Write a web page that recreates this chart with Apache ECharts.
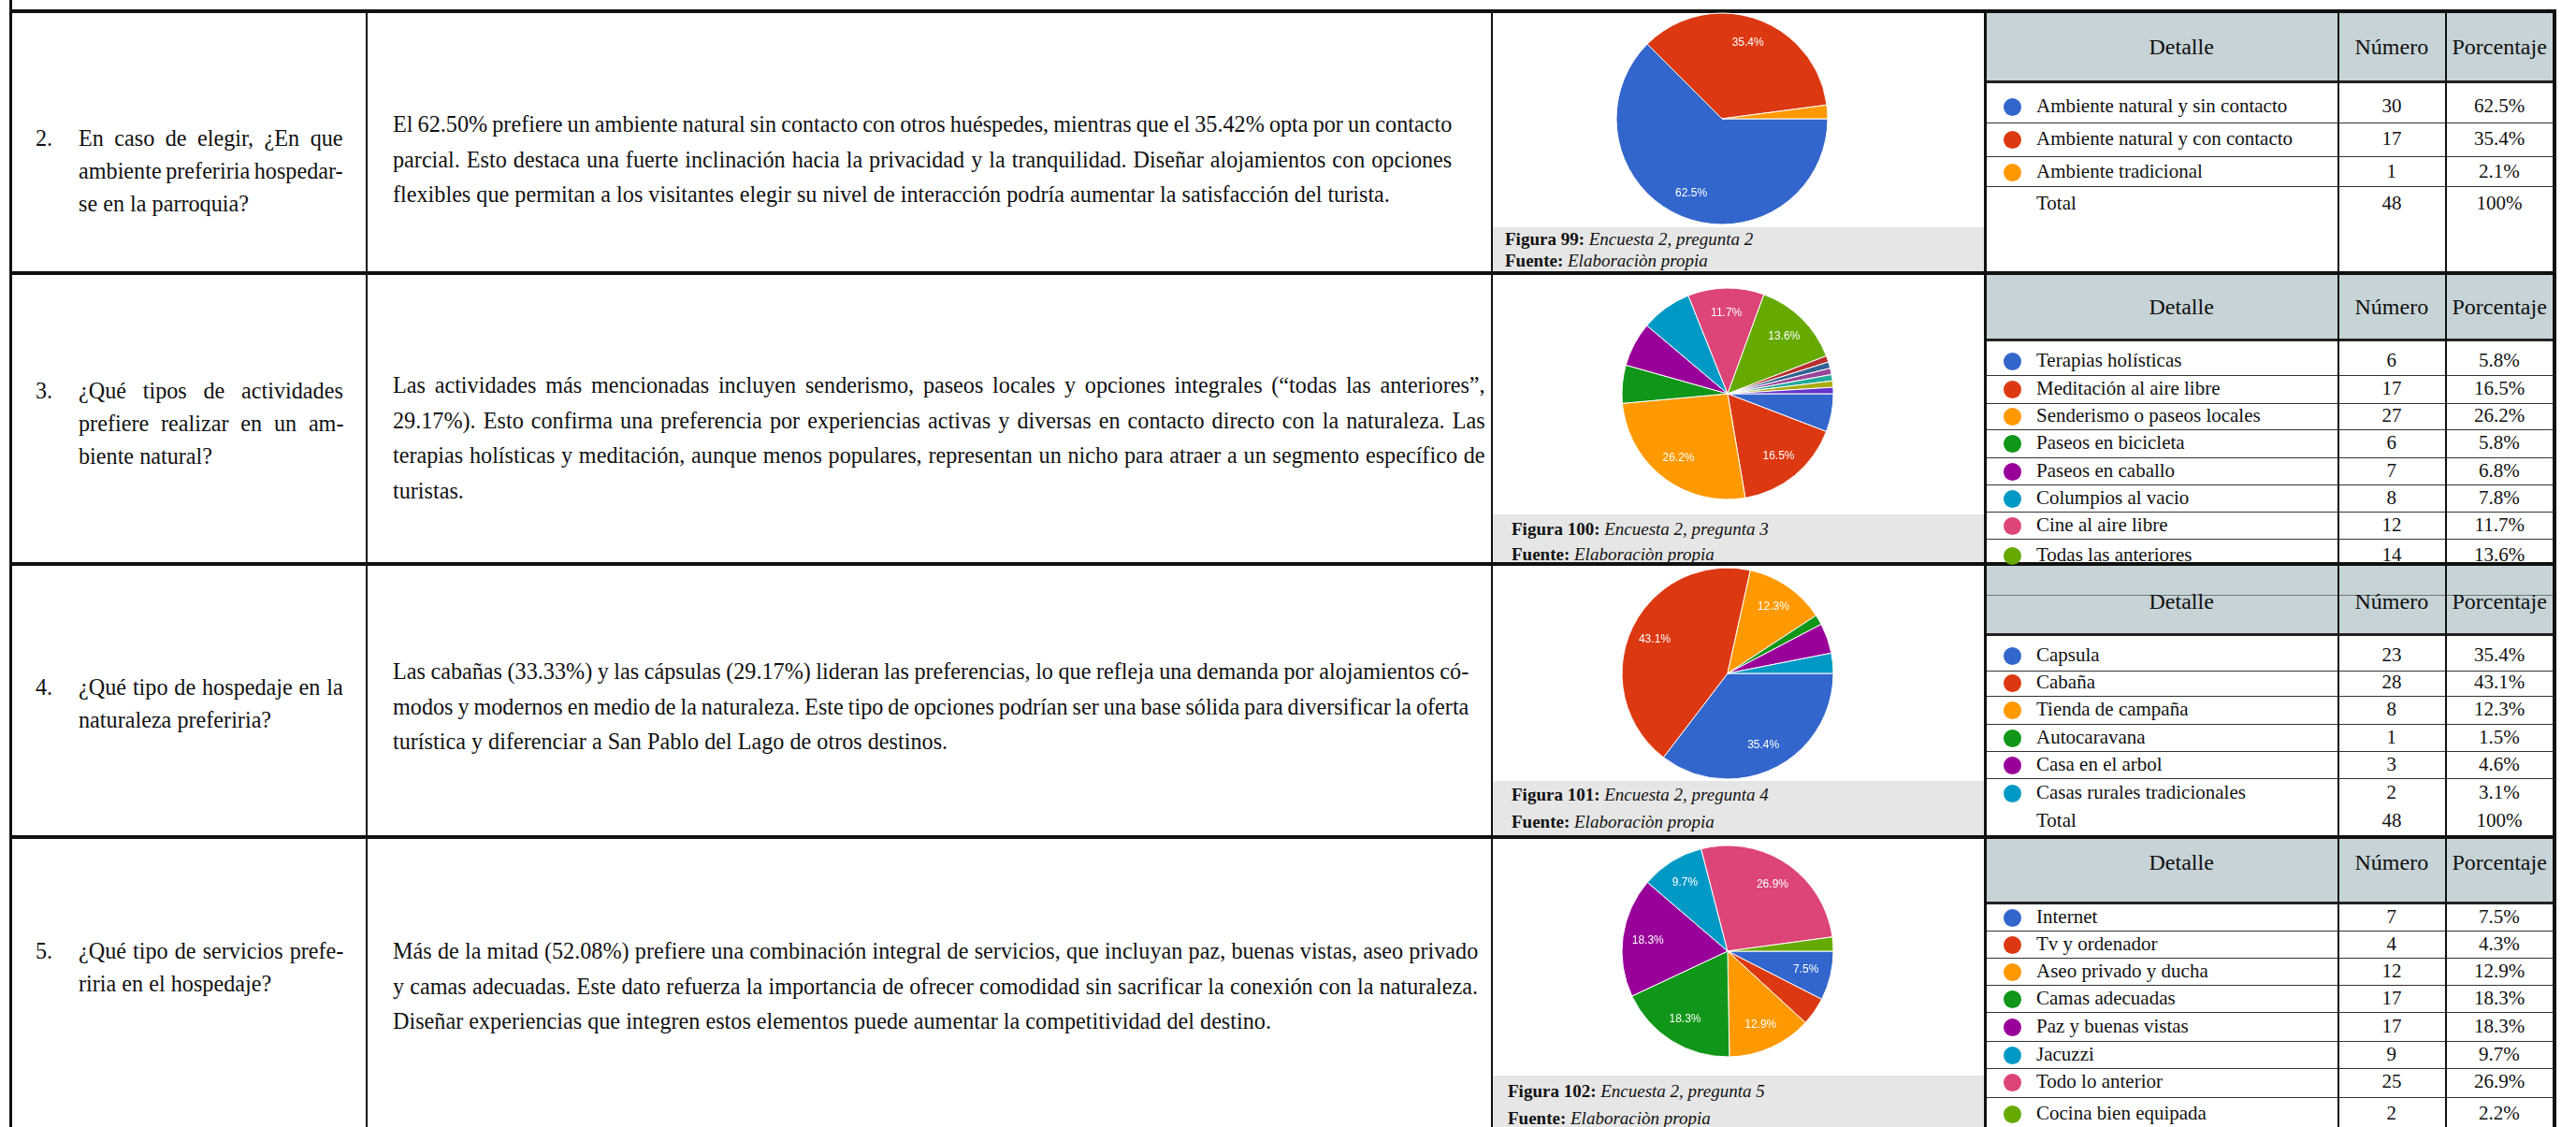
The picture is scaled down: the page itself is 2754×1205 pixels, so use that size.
<!DOCTYPE html>
<html>
<head>
<meta charset="utf-8">
<title>Encuesta 2</title>
<script src="https://cdn.jsdelivr.net/npm/echarts/dist/echarts.min.js"></script>
<style>
  html, body { margin: 0; padding: 0; background: #fff; }
  #page { position: relative; width: 2754px; height: 1205px; overflow: hidden;
          font-family: "Liberation Serif", "Times New Roman", serif; color: #111; }
  .ln { position: absolute; background: #111; }
  .tx { position: absolute; white-space: nowrap; }
  #chart { position: absolute; left: 0; top: 0; width: 2754px; height: 1205px; z-index: 5; }
</style>
</head>
<body>
<div id="page">
  <div id="chart"></div>
</div>
<script>
// ---- datos (encuesta 2) ----
const p2Detalle = ['Ambiente natural y sin contacto', 'Ambiente natural y con contacto', 'Ambiente tradicional'];
const p2Numero = [30, 17, 1];
const p2Porcentaje = ['62.5%', '35.4%', '2.1%'];
const p2Total = ['48', '100%'];

const p3Detalle = ['Terapias holísticas', 'Meditación al aire libre', 'Senderismo o paseos locales', 'Paseos en bicicleta',
  'Paseos en caballo', 'Columpios al vacio', 'Cine al aire libre', 'Todas las anteriores'];
const p3Numero = [6, 17, 27, 6, 7, 8, 12, 14];
const p3Porcentaje = ['5.8%', '16.5%', '26.2%', '5.8%', '6.8%', '7.8%', '11.7%', '13.6%'];
// respuestas sueltas que aparecen en el pastel pero no en la tabla
const p3Otras = [1, 1, 1, 1, 1, 1];

const p4Detalle = ['Capsula', 'Cabaña', 'Tienda de campaña', 'Autocaravana', 'Casa en el arbol', 'Casas rurales tradicionales'];
const p4Numero = [23, 28, 8, 1, 3, 2];
const p4Porcentaje = ['35.4%', '43.1%', '12.3%', '1.5%', '4.6%', '3.1%'];
const p4Total = ['48', '100%'];

const p5Detalle = ['Internet', 'Tv y ordenador', 'Aseo privado y ducha', 'Camas adecuadas', 'Paz y buenas vistas',
  'Jacuzzi', 'Todo lo anterior', 'Cocina bien equipada'];
const p5Numero = [7, 4, 12, 17, 17, 9, 25, 2];
const p5Porcentaje = ['7.5%', '4.3%', '12.9%', '18.3%', '18.3%', '9.7%', '26.9%', '2.2%'];

// colores tipo google forms
const palette = ['#3366cc', '#dc3912', '#ff9900', '#109618', '#990099', '#0099c6', '#dd4477', '#66aa00',
  '#b82e2e', '#316395', '#994499', '#22aa99', '#aaaa11', '#6633cc'];

const page = document.getElementById('page');
const TXT = 24.2; // tamaño del texto del documento

function addBox(x, y, w, h, color) {
  const d = document.createElement('div');
  d.className = 'ln';
  d.style.cssText = `left:${x}px;top:${y}px;width:${w}px;height:${h}px;background:${color || '#111'};`;
  page.appendChild(d);
  return d;
}

// texto centrado verticalmente en y; align: left | center | justify
function addText(html, x, y, opts) {
  opts = opts || {};
  const size = opts.size || TXT;
  const lh = Math.round(size * 1.4);
  const d = document.createElement('div');
  d.className = 'tx';
  d.innerHTML = html;
  d.style.fontSize = size + 'px';
  d.style.lineHeight = lh + 'px';
  d.style.top = (y - lh / 2) + 'px';
  page.appendChild(d);
  if (opts.align === 'center') {
    d.style.left = (x - d.offsetWidth / 2) + 'px';
  } else {
    d.style.left = x + 'px';
  }
  if (opts.align === 'justify' && opts.width) {
    const spaces = (d.textContent.match(/ /g) || []).length;
    if (spaces > 0) {
      const extra = (opts.width - d.offsetWidth) / spaces;
      d.style.wordSpacing = extra + 'px';
    }
  }
  return d;
}

// párrafo con líneas dadas, todas justificadas menos la última
function addParagraph(lines, x, y0, width, step, size) {
  lines.forEach((t, i) => {
    addText(t, x, y0 + i * step, { size: size, align: i < lines.length - 1 ? 'justify' : 'left', width: width });
  });
}

// ---- bordes de la tabla principal ----
[10, 290, 601, 893].forEach(y => addBox(10, y, 2723, 4));
addBox(10, 0, 3, 1205);
addBox(391, 12, 2, 1193);
addBox(1594, 12, 2, 1193);
addBox(2121, 12, 3, 1193);
addBox(2729, 12, 4, 1193);

// ---- columna de preguntas ----
const preguntas = [
  { n: '2.', y: 148, lines: ['En caso de elegir, ¿En que', 'ambiente preferiria hospedar-', 'se en la parroquia?'] },
  { n: '3.', y: 418, lines: ['¿Qué tipos de actividades', 'prefiere realizar en un am-', 'biente natural?'] },
  { n: '4.', y: 735, lines: ['¿Qué tipo de hospedaje en la', 'naturaleza preferiria?'] },
  { n: '5.', y: 1017, lines: ['¿Qué tipo de servicios prefe-', 'riria en el hospedaje?'] }
];
preguntas.forEach(p => {
  addText(p.n, 38, p.y, { size: TXT });
  addParagraph(p.lines, 84, p.y, 283, 35, TXT);
});

// ---- columna de análisis ----
const analisis = [
  { y: 133, w: 1132, lines: [
    'El 62.50% prefiere un ambiente natural sin contacto con otros huéspedes, mientras que el 35.42% opta por un contacto',
    'parcial. Esto destaca una fuerte inclinación hacia la privacidad y la tranquilidad. Diseñar alojamientos con opciones',
    'flexibles que permitan a los visitantes elegir su nivel de interacción podría aumentar la satisfacción del turista.'] },
  { y: 412, w: 1168, lines: [
    'Las actividades más mencionadas incluyen senderismo, paseos locales y opciones integrales (“todas las anteriores”,',
    '29.17%). Esto confirma una preferencia por experiencias activas y diversas en contacto directo con la naturaleza. Las',
    'terapias holísticas y meditación, aunque menos populares, representan un nicho para atraer a un segmento específico de',
    'turistas.'] },
  { y: 718, w: 1150, lines: [
    'Las cabañas (33.33%) y las cápsulas (29.17%) lideran las preferencias, lo que refleja una demanda por alojamientos có-',
    'modos y modernos en medio de la naturaleza. Este tipo de opciones podrían ser una base sólida para diversificar la oferta',
    'turística y diferenciar a San Pablo del Lago de otros destinos.'] },
  { y: 1017, w: 1160, lines: [
    'Más de la mitad (52.08%) prefiere una combinación integral de servicios, que incluyan paz, buenas vistas, aseo privado',
    'y camas adecuadas. Este dato refuerza la importancia de ofrecer comodidad sin sacrificar la conexión con la naturaleza.',
    'Diseñar experiencias que integren estos elementos puede aumentar la competitividad del destino.'] }
];
analisis.forEach(a => addParagraph(a.lines, 420, a.y, a.w, 37.5, TXT));

// ---- pies de figura ----
const figuras = [
  { num: 99, preg: 2, band: [243, 290], x: 1609, y: [255, 278] },
  { num: 100, preg: 3, band: [550, 601], x: 1616, y: [565, 592] },
  { num: 101, preg: 4, band: [835, 893], x: 1616, y: [849, 878] },
  { num: 102, preg: 5, band: [1150, 1205], x: 1612, y: [1166, 1195] }
];
figuras.forEach(f => {
  addBox(1596, f.band[0], 525, f.band[1] - f.band[0], '#e6e6e6');
  addText(`<b>Figura ${f.num}:</b> <i>Encuesta 2, pregunta ${f.preg}</i>`, f.x, f.y[0], { size: 19 });
  addText('<b>Fuente:</b> <i>Elaboraciòn propia</i>', f.x, f.y[1], { size: 19 });
});

// ---- tablas de frecuencias ----
const X0 = 2124, X1 = 2729, XN = 2499, XP = 2614;
function buildTable(t) {
  addBox(X0, t.top, X1 - X0, t.headerBottom - t.top, '#c6d3d7');
  if (t.headerLine) addBox(X0, t.headerLine, X1 - X0, 1, '#6f7a7d');
  addBox(X0, t.headerBottom - 1, X1 - X0, 3, '#222');
  t.rowLines.forEach(y => addBox(X0, y, X1 - X0, 1, '#333'));
  addBox(XN, t.top, 2, t.bottom - t.top);
  addBox(XP, t.top, 2, t.bottom - t.top);
  addText('Detalle', 2332, t.headY, { size: 24, align: 'center' });
  addText('Número', 2557, t.headY, { size: 24, align: 'center' });
  addText('Porcentaje', 2672, t.headY, { size: 24, align: 'center' });
  t.detalle.forEach((name, i) => {
    const y = t.rowY[i];
    const dot = addBox(2142, y - 8, 19, 19, palette[i]);
    dot.style.borderRadius = '50%';
    addText(name, 2177, y, { size: 21 });
    addText(String(t.numero[i]), 2557, y, { size: 21, align: 'center' });
    addText(t.porcentaje[i], 2672, y, { size: 21, align: 'center' });
  });
  if (t.total) {
    addText('Total', 2177, t.totalY, { size: 21 });
    addText(t.total[0], 2557, t.totalY, { size: 21, align: 'center' });
    addText(t.total[1], 2672, t.totalY, { size: 21, align: 'center' });
  }
}

buildTable({ top: 14, headerBottom: 87, headY: 50, rowLines: [131, 167, 199], rowY: [113, 148, 183],
  detalle: p2Detalle, numero: p2Numero, porcentaje: p2Porcentaje, total: p2Total, totalY: 217, bottom: 290 });
buildTable({ top: 294, headerBottom: 363, headY: 328, rowLines: [401, 431, 459, 489, 518, 547, 576],
  rowY: [385, 415, 444, 473, 503, 532, 561, 593],
  detalle: p3Detalle, numero: p3Numero, porcentaje: p3Porcentaje, bottom: 601 });
buildTable({ top: 605, headerBottom: 678, headerLine: 636, headY: 643, rowLines: [717, 744, 774, 803, 832],
  rowY: [700, 729, 758, 788, 817, 847],
  detalle: p4Detalle, numero: p4Numero, porcentaje: p4Porcentaje, total: p4Total, totalY: 877, bottom: 893 });
buildTable({ top: 897, headerBottom: 965, headY: 922, rowLines: [995, 1024, 1053, 1082, 1113, 1142, 1173],
  rowY: [980, 1009, 1038, 1067, 1097, 1127, 1156, 1190],
  detalle: p5Detalle, numero: p5Numero, porcentaje: p5Porcentaje, bottom: 1205 });

// ---- graficos de pastel ----
const chart = echarts.init(document.getElementById('chart'));
const R = 113;

function pieSeries(cx, cy, names, values, labelMin) {
  const total = values.reduce((a, b) => a + b, 0);
  const base = {
    type: 'pie', center: [cx, cy], startAngle: 0, clockwise: true, silent: true,
    animation: false, avoidLabelOverlap: false, labelLine: { show: false }
  };
  return [
    Object.assign({}, base, {
      radius: [0, R],
      label: { show: false },
      itemStyle: { borderColor: '#fff', borderWidth: 1 },
      data: names.map((n, i) => ({ name: n, value: values[i], itemStyle: { color: palette[i] } }))
    }),
    // anillo transparente solo para ubicar los porcentajes hacia el borde
    Object.assign({}, base, {
      radius: [R * 0.47, R],
      itemStyle: { color: 'rgba(0,0,0,0)', borderWidth: 0 },
      label: {
        show: true, position: 'inside', color: '#fff', fontSize: 12, fontFamily: 'Arial',
        formatter: p => {
          const pct = p.value / total * 100;
          return pct >= labelMin ? (Math.round(pct * 10) / 10).toFixed(1) + '%' : '';
        }
      },
      data: names.map((n, i) => ({ name: n, value: values[i] }))
    })
  ];
}

const p3Nombres = p3Detalle.concat(p3Otras.map((v, i) => 'Otra respuesta ' + (i + 1)));
const p3Valores = p3Numero.concat(p3Otras);

chart.setOption({
  series: [].concat(
    pieSeries(1841, 127, p2Detalle, p2Numero, 7),
    pieSeries(1847, 421, p3Nombres, p3Valores, 8),
    pieSeries(1847, 720, p4Detalle, p4Numero, 7),
    pieSeries(1847, 1017, p5Detalle, p5Numero, 7)
  )
});
</script>
</body>
</html>
